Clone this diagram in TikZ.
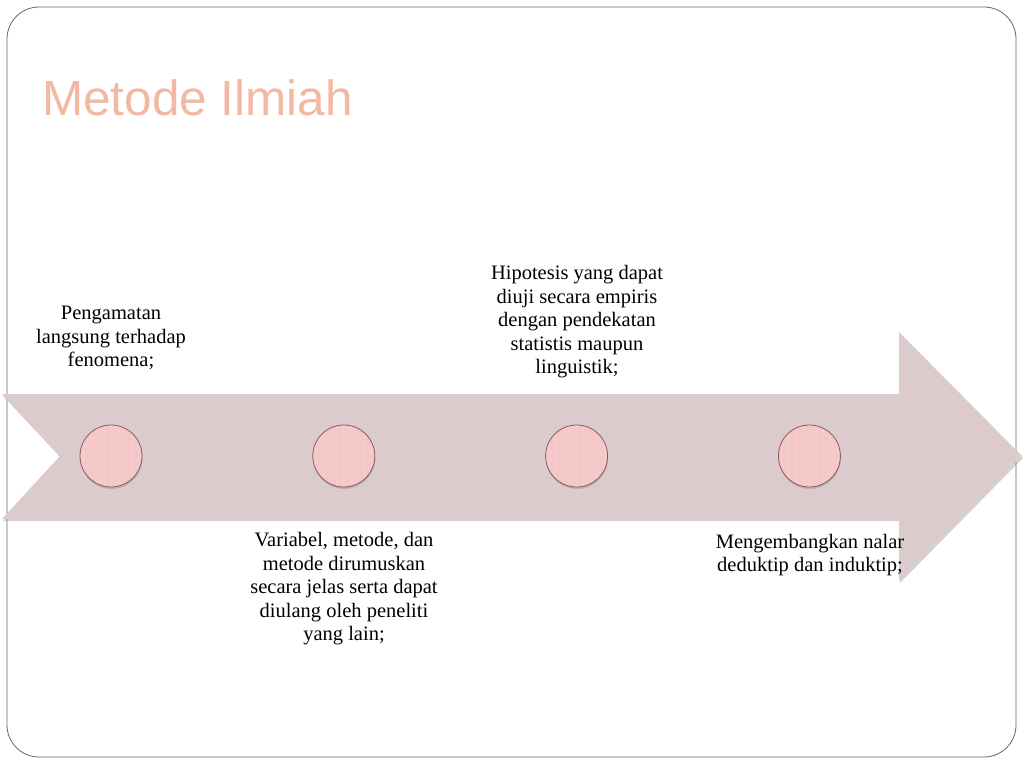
\documentclass[tikz,border=0pt]{standalone}
\usepackage{fontspec}
\setmainfont{Liberation Serif}
\newfontfamily\headfont{Liberation Sans}
\usepackage{tikz}
\usetikzlibrary{positioning, shadows}

\definecolor{arrowpink}{HTML}{DCCBCD}
\definecolor{dotpink}{HTML}{F4C8C8}
\definecolor{dotrim}{HTML}{8B5A5A}
\definecolor{titlepink}{HTML}{F2B8A2}

\begin{document}
\begin{tikzpicture}[
    x=1pt, y=-1pt,
    node distance=0pt and 170pt,
    dot/.style={circle, draw=dotrim, fill=dotpink, line width=0.8pt, minimum size=62pt, inner sep=0pt,
        drop shadow={opacity=0.35, shadow xshift=0.5pt, shadow yshift=-2pt},
        path picture={
            \foreach \k in {-28,-21,...,28}
                \draw[dotpink!88!white, line width=0.7pt]
                    ([xshift=\k pt]path picture bounding box.north) -- ([xshift=\k pt]path picture bounding box.south);
        }},
    note/.style={align=center, inner sep=0pt, font=\fontsize{20.5}{23.5}\selectfont},
    headline/.style={anchor=base west, inner sep=0pt, text=titlepink, font=\headfont\fontsize{49.5}{56}\selectfont}
]
    \useasboundingbox (0,0) rectangle (1024,768);

    % frame
    \draw[black!60, line width=0.8pt, rounded corners=32pt] (7,7) rectangle (1016,757);

    % title
    \node[headline] (title) at (42,115) {Metode Ilmiah};

    % arrow
    \fill[arrowpink, drop shadow={opacity=0.35, shadow xshift=1pt, shadow yshift=-2pt}]
        (2,394) -- (899,394) -- (899,332) -- (1022,456) -- (899,581)
        -- (899,519) -- (2,519) -- (60,456) -- cycle;

    % steps
    \node[dot] (d1) at (111,456) {};
    \node[dot, right=of d1] (d2) {};
    \node[dot, right=of d2] (d3) {};
    \node[dot, right=of d3] (d4) {};

    % texts
    \node[note] (t1) at (111,338) {Pengamatan\\langsung terhadap\\fenomena;};
    \node[note] (t2) at (344,589) {Variabel, metode, dan\\metode dirumuskan\\secara jelas serta dapat\\diulang oleh peneliti\\yang lain;};
    \node[note] (t3) at (577,322) {Hipotesis yang dapat\\diuji secara empiris\\dengan pendekatan\\statistis maupun\\linguistik;};
    \node[note] (t4) at (810,555) {Mengembangkan nalar\\deduktip dan induktip;};
\end{tikzpicture}
\end{document}
